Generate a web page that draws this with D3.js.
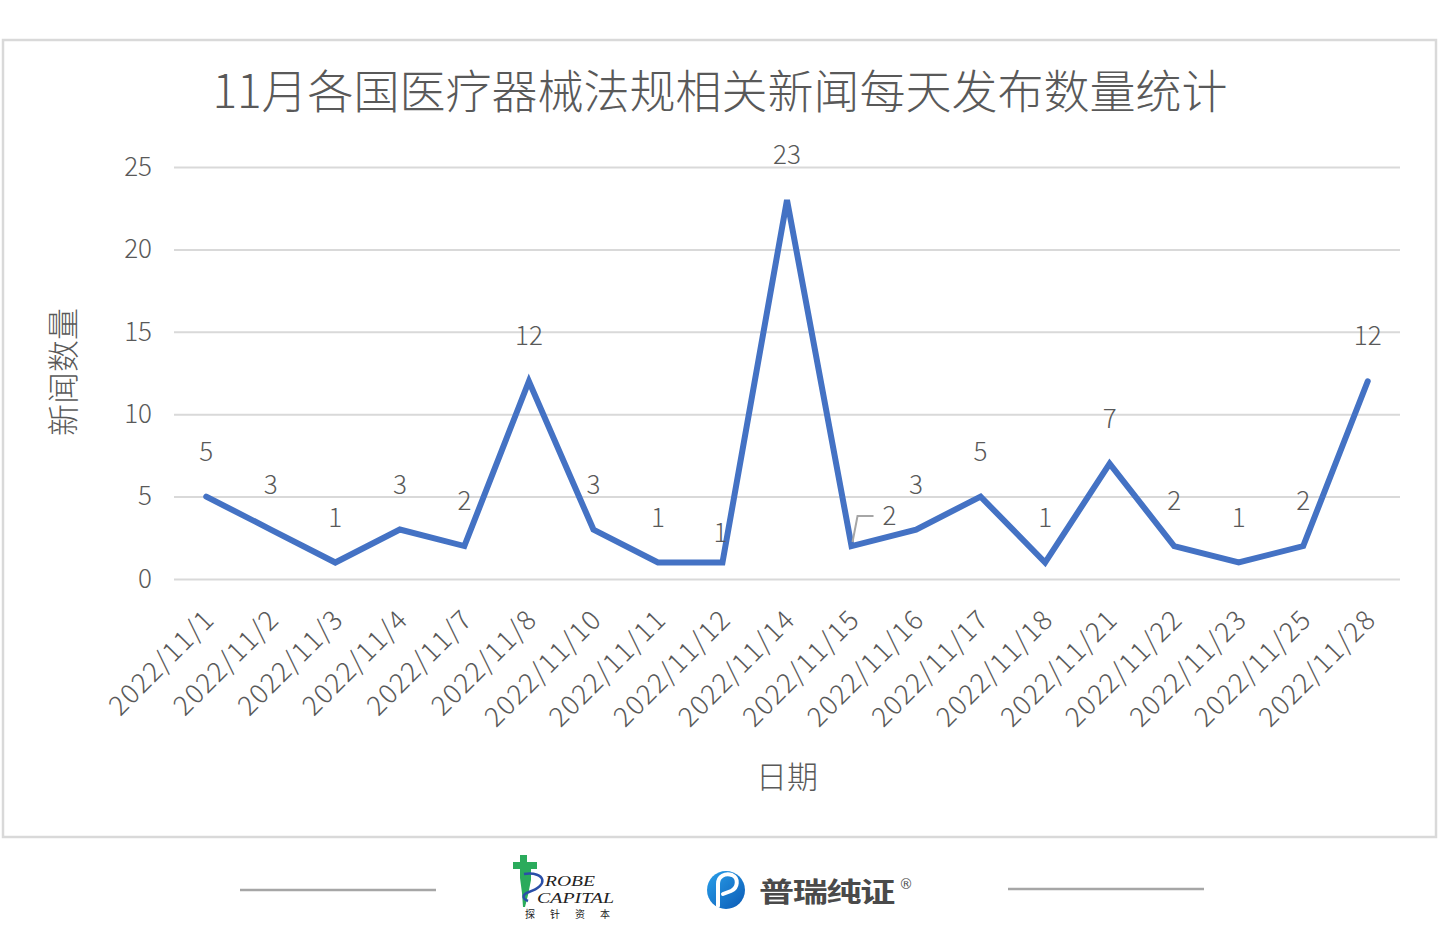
<!DOCTYPE html>
<html>
<head>
<meta charset="utf-8">
<script src="https://cdn.jsdelivr.net/npm/d3@7"></script>
<style>
  html, body { margin: 0; padding: 0; background: #fff; }
  svg { display: block; }
</style>
</head>
<body>
<svg id="chart" width="1440" height="945" font-family="'Noto Sans CJK SC', 'Noto Sans', sans-serif"></svg>
<script>
// ---- data ----
const titleText = "11月各国医疗器械法规相关新闻每天发布数量统计";
const categories = ["2022/11/1","2022/11/2","2022/11/3","2022/11/4","2022/11/7","2022/11/8","2022/11/10","2022/11/11","2022/11/12","2022/11/14","2022/11/15","2022/11/16","2022/11/17","2022/11/18","2022/11/21","2022/11/22","2022/11/23","2022/11/25","2022/11/28"];
const values = [5,3,1,3,2,12,3,1,1,23,2,3,5,1,7,2,1,2,12];
const yTicks = [0,5,10,15,20,25];
const yTitle = "新闻数量";
const xTitle = "日期";

// ---- layout ----
const svg = d3.select("#chart");
const plot = { left: 174, right: 1400, top: 167, bottom: 579 };
const textColor = "#595959";
const cjk = "'Noto Sans CJK SC', 'Noto Sans', sans-serif";

// chart frame
svg.append("rect").attr("x", 3).attr("y", 40).attr("width", 1433).attr("height", 797)
  .attr("fill", "#fff").attr("stroke", "#d9d9d9").attr("stroke-width", 2.5);

const x = d3.scaleBand().domain(categories).range([plot.left, plot.right]);
const cx = d => x(d) + x.bandwidth() / 2;
const y = d3.scaleLinear().domain([0, 25]).range([plot.bottom, plot.top]);

// title
svg.append("text").attr("x", 720).attr("y", 108).attr("text-anchor", "middle")
  .attr("font-size", 46).attr("fill", textColor).attr("font-weight", 300)
  .text(titleText);

// gridlines + y axis via d3.axisLeft
const yAxis = d3.axisLeft(y).tickValues(yTicks).tickSize(-(plot.right - plot.left)).tickPadding(22);
const gy = svg.append("g").attr("transform", `translate(${plot.left},0)`).call(yAxis);
gy.select(".domain").remove();
gy.selectAll(".tick line").attr("stroke", "#d9d9d9").attr("stroke-width", 2);
gy.selectAll(".tick text").attr("font-size", 26).attr("fill", textColor)
  .attr("font-family", cjk).attr("font-weight", 300);

// x axis labels
const xAxis = d3.axisBottom(x).tickSize(0).tickPadding(0);
const gx = svg.append("g").attr("transform", `translate(0,${plot.bottom})`).call(xAxis);
gx.select(".domain").remove();
gx.selectAll(".tick text")
  .attr("font-size", 27).attr("fill", textColor).attr("font-weight", 300)
  .attr("font-family", cjk)
  .attr("letter-spacing", 1.5)
  .attr("text-anchor", "end").attr("dy", 0)
  .attr("transform", "translate(10,42) rotate(-45)");

// axis titles
svg.append("text").attr("transform", "translate(75,372) rotate(-90)")
  .attr("text-anchor", "middle").attr("font-size", 32).attr("fill", textColor).attr("font-weight", 300)
  .text(yTitle);
svg.append("text").attr("x", 787).attr("y", 788).attr("text-anchor", "middle")
  .attr("font-size", 31).attr("fill", textColor).attr("font-weight", 300)
  .text(xTitle);

// line
const pts = categories.map((c, i) => ({ c, v: values[i] }));
const line = d3.line().x(d => cx(d.c)).y(d => y(d.v));
svg.append("path").datum(pts).attr("d", line)
  .attr("fill", "none").attr("stroke", "#4472C4").attr("stroke-width", 6)
  .attr("stroke-linejoin", "miter").attr("stroke-linecap", "round");

// data labels (with a few manual nudges like the original)
const labelNudge = { "2022/11/12": [-2, 15], "2022/11/15": [38, 15] };
svg.append("g").selectAll("text").data(pts).join("text")
  .attr("x", d => cx(d.c) + (labelNudge[d.c] ? labelNudge[d.c][0] : 0))
  .attr("y", d => y(d.v) - 36 + (labelNudge[d.c] ? labelNudge[d.c][1] : 0))
  .attr("text-anchor", "middle").attr("font-size", 26).attr("fill", textColor).attr("font-weight", 300)
  .text(d => d.v);

// leader line for 11/15 label
{
  const px = cx("2022/11/15"), py = y(2);
  svg.append("path")
    .attr("d", `M${px + 1},${py - 4} L${px + 6},${py - 30} L${px + 22},${py - 30}`)
    .attr("fill", "none").attr("stroke", "#a6a6a6").attr("stroke-width", 2);
}

// ---- footer ----
svg.append("line").attr("x1", 240).attr("x2", 436).attr("y1", 890).attr("y2", 890)
  .attr("stroke", "#a6a6a6").attr("stroke-width", 2.5);
svg.append("line").attr("x1", 1008).attr("x2", 1204).attr("y1", 889).attr("y2", 889)
  .attr("stroke", "#a6a6a6").attr("stroke-width", 2.5);

// Probe Capital logo
const pl = svg.append("g");
pl.append("path")
  .attr("d", "M520,855 L527,855 L527,862 L537,862 L537,869 L531,869 L531,880 L528,895 L525,907 L523,907 L522,893 L520,878 L520,869 L513,869 L513,862 L520,862 Z")
  .attr("fill", "#2bab5c");
pl.append("path")
  .attr("d", "M524,874 C546,871 549,886 529,892 C523,894 521,898 528,901")
  .attr("fill", "none").attr("stroke", "#2a4fa8").attr("stroke-width", 2.5);
const serifItalic = "'Liberation Serif', 'DejaVu Serif', serif";
pl.append("text").attr("x", 545).attr("y", 886).attr("fill", "#222")
  .attr("font-family", serifItalic).attr("font-style", "italic")
  .attr("font-size", 15).attr("textLength", 50).attr("lengthAdjust", "spacingAndGlyphs").text("ROBE");
pl.append("text").attr("x", 537).attr("y", 903).attr("fill", "#222")
  .attr("font-family", serifItalic).attr("font-style", "italic")
  .attr("font-size", 15).attr("textLength", 77).attr("lengthAdjust", "spacingAndGlyphs").text("CAPITAL");
pl.append("text").attr("x", 525).attr("y", 918).attr("font-size", 10).attr("fill", "#222")
  .attr("letter-spacing", 15).text("探针资本");

// Puri logo
const defs = svg.append("defs");
const grad = defs.append("linearGradient").attr("id", "puriGrad")
  .attr("x1", "0").attr("y1", "0").attr("x2", "1").attr("y2", "1");
grad.append("stop").attr("offset", "0").attr("stop-color", "#2aa0ea");
grad.append("stop").attr("offset", "1").attr("stop-color", "#0b5ab5");
const pu = svg.append("g");
pu.append("circle").attr("cx", 726).attr("cy", 890).attr("r", 19).attr("fill", "url(#puriGrad)");
pu.append("path")
  .attr("d", "M718,906 L718,884 C718,876 725,873 732,875 C739,878 738,888 731,891 L723,894")
  .attr("fill", "none").attr("stroke", "#fff").attr("stroke-width", 4).attr("stroke-linecap", "round");
pu.append("text").attr("transform", "translate(759,902) scale(1.3,1)")
  .attr("font-size", 27).attr("font-weight", 700)
  .attr("fill", "#4a4a4a").attr("letter-spacing", -1).text("普瑞纯证");
pu.append("text").attr("x", 899).attr("y", 889).attr("font-size", 14)
  .attr("font-family", "'DejaVu Sans', sans-serif").attr("fill", "#555").text("®");
</script>
</body>
</html>
